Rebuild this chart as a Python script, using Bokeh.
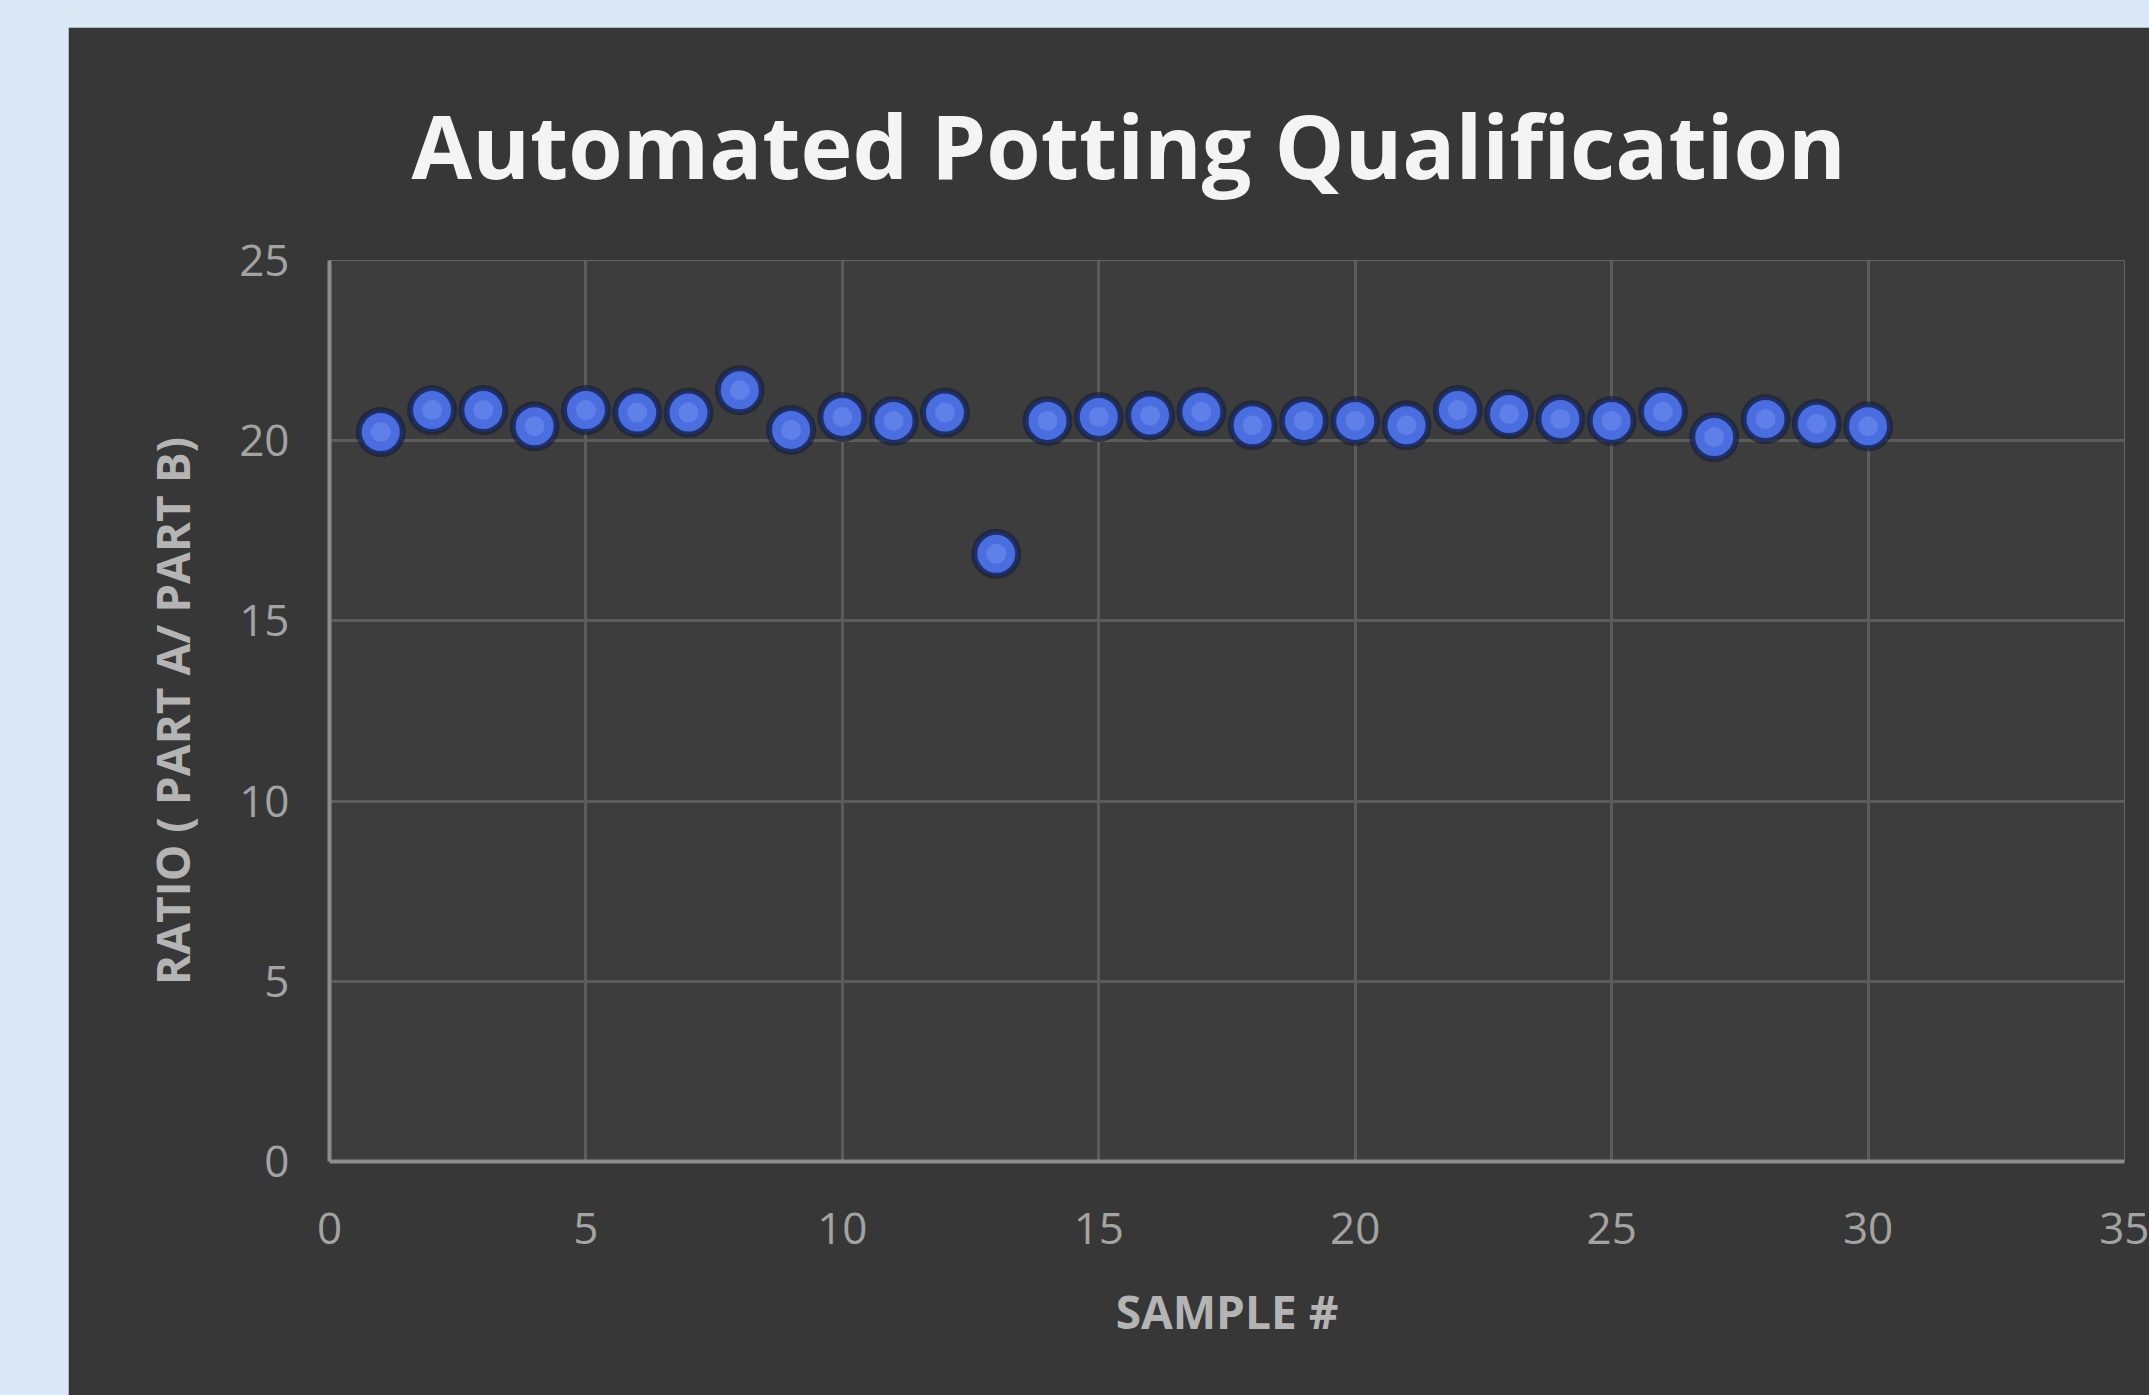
from bokeh.plotting import figure
from bokeh.models import Spacer, ColumnDataSource
from bokeh.layouts import column, row
from bokeh.embed import file_html
from bokeh.resources import INLINE

# ---- data ----
sample = list(range(1, 31))
ratio = [20.24, 20.85, 20.85, 20.40, 20.85, 20.78, 20.78, 21.40, 20.30, 20.66,
         20.55, 20.78, 16.86, 20.55, 20.66, 20.70, 20.80, 20.43, 20.55, 20.55,
         20.43, 20.85, 20.74, 20.60, 20.55, 20.80, 20.10, 20.60, 20.47, 20.40]
x_ticks = [0, 5, 10, 15, 20, 25, 30, 35]
y_ticks = [0, 5, 10, 15, 20, 25]

TITLE = "Automated Potting Qualification"
XLABEL = "SAMPLE #"
YLABEL = "RATIO ( PART A/ PART B)"

src = ColumnDataSource(dict(x=sample, y=ratio))

p = figure(width=2081, height=1368, x_range=(0, 35), y_range=(0, 25),
           output_backend="svg", toolbar_location=None,
           min_border_left=261, min_border_right=25,
           min_border_top=233, min_border_bottom=234)

p.border_fill_color = "#373737"
p.background_fill_color = "#3d3d3d"
p.outline_line_color = None

p.title.text = TITLE
p.title.text_font = "Open Sans"
p.title.text_font_style = "bold"
p.title.text_font_size = "88px"
p.title.text_color = "#f4f4f4"
p.title.align = "left"
p.title.offset = 82
p.title.standoff = 111

for ax in (p.xaxis[0], p.yaxis[0]):
    ax.major_label_text_font = "Open Sans"
    ax.major_label_text_font_size = "44px"
    ax.major_label_text_color = "#a3a3a3"
    ax.axis_label_text_font = "Open Sans"
    ax.axis_label_text_font_style = "bold"
    ax.axis_label_text_font_size = "46px"
    ax.axis_label_text_color = "#b4b4b4"
    ax.major_tick_line_color = None
    ax.minor_tick_line_color = None
    ax.axis_line_color = "#8c8c8c"
    ax.axis_line_width = 4

p.xaxis.ticker = x_ticks
p.yaxis.ticker = y_ticks
p.xaxis.axis_label = XLABEL
p.yaxis.axis_label = YLABEL
p.xaxis.major_label_standoff = 45
p.yaxis.major_label_standoff = 34
p.xaxis.axis_label_standoff = 33
p.yaxis.axis_label_standoff = 33

p.xgrid.grid_line_color = "#5c5c5c"
p.ygrid.grid_line_color = "#5c5c5c"
p.xgrid.grid_line_width = 3
p.ygrid.grid_line_width = 3

# marker halo, body, highlight
p.scatter("x", "y", source=src, size=50, fill_color="#141c38", fill_alpha=0.6,
          line_color=None)
p.scatter("x", "y", source=src, size=41, fill_color="#4a6de0",
          line_color="#1e2f6e", line_width=3)
p.scatter("x", "y", source=src, size=20, fill_color="#7190f0", fill_alpha=0.55,
          line_color=None)

layout = column(Spacer(height=27),
                row(Spacer(width=68), p),
                styles={"background-color": "#dbe8f5"})

open("out.html", "w").write(file_html(layout, INLINE))
